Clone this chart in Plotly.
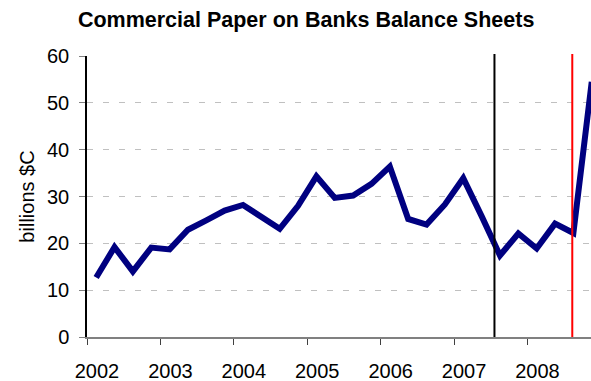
import plotly.graph_objects as go

# Quarterly commercial paper held on bank balance sheets, 2002Q1 - 2008Q4 (billions $C)
years = [2002, 2003, 2004, 2005, 2006, 2007, 2008]
quarters_per_year = 4
paper_values = [
    12.7, 19.2, 14.0, 19.1,   # 2002
    18.7, 22.9, 24.9, 27.0,   # 2003
    28.2, 25.8, 23.1, 28.0,   # 2004
    34.3, 29.7, 30.2, 32.7,   # 2005
    36.4, 25.2, 24.0, 28.3,   # 2006
    33.9, 25.8, 17.4, 22.1,   # 2007
    18.9, 24.2, 22.2, 54.5,   # 2008
]
# Event markers (fractional year)
event_dates = [2007.55, 2008.61]
event_colors = ["black", "red"]

y_ticks = [0, 10, 20, 30, 40, 50, 60]

# Each quarter sits in the middle of its category slot
x_pos = [years[0] + (i + 0.5) / quarters_per_year for i in range(len(paper_values))]

FONT = "Arial, Liberation Sans, sans-serif"

fig = go.Figure()
fig.add_trace(go.Scatter(
    x=x_pos, y=paper_values, mode="lines",
    line=dict(color="#000080", width=6),
    hoverinfo="skip", showlegend=False,
))

for d, c in zip(event_dates, event_colors):
    fig.add_shape(type="line", xref="x", yref="paper", x0=d, x1=d, y0=0, y1=1.007,
                  line=dict(color=c, width=2), layer="above")

fig.update_layout(
    width=591, height=381,
    margin=dict(l=87, r=0, t=56, b=44),
    paper_bgcolor="white", plot_bgcolor="white",
    title=dict(text="<b>Commercial Paper on Banks Balance Sheets</b>",
               font=dict(family=FONT, size=21.5, color="black"),
               x=0.518, xref="container", xanchor="center",
               y=1 - 19 / 381, yref="container", yanchor="middle"),
    font=dict(family=FONT, color="black"),
)

# The last quarter sits right on the right edge of the plot
fig.update_xaxes(
    range=[years[0], x_pos[-1] - 0.01],
    tickvals=years, ticktext=[str(y) for y in years],
    ticks="outside", ticklen=6, tickcolor="#404040", tickwidth=1,
    ticklabelshift=10, ticklabelstandoff=9,
    tickfont=dict(family=FONT, size=20, color="black"),
    showline=True, linecolor="#808080", linewidth=1.5,
    showgrid=False, zeroline=False,
)

fig.update_yaxes(
    range=[0, 60],
    tickvals=y_ticks,
    ticks="outside", ticklen=6, tickcolor="#808080", tickwidth=1,
    tickfont=dict(family=FONT, size=20, color="black"),
    ticklabelstandoff=6,
    showline=True, linecolor="black", linewidth=1.5,
    showgrid=True, gridcolor="#c0c0c0", gridwidth=1, griddash="6px,10px",
    zeroline=False,
    title=dict(text="billions $C", font=dict(family=FONT, size=20, color="black"), standoff=7),
)

fig.write_html("out.html")
